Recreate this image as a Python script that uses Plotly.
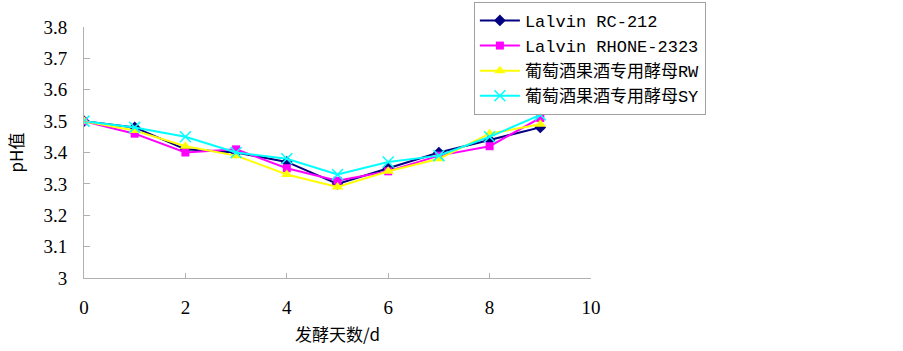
import plotly.graph_objects as go

days = [0, 1, 2, 3, 4, 5, 6, 7, 8, 9]
rc212 = [3.50, 3.48, 3.41, 3.40, 3.37, 3.30, 3.35, 3.40, 3.44, 3.48]
rhone = [3.50, 3.46, 3.40, 3.41, 3.35, 3.31, 3.34, 3.39, 3.42, 3.51]
rw = [3.50, 3.47, 3.42, 3.39, 3.33, 3.29, 3.34, 3.38, 3.46, 3.49]
sy = [3.50, 3.48, 3.45, 3.40, 3.38, 3.33, 3.37, 3.39, 3.45, 3.52]

names = ["Lalvin RC-212", "Lalvin RHONE-2323", "葡萄酒果酒专用酵母RW", "葡萄酒果酒专用酵母SY"]
x_ticks = [0, 2, 4, 6, 8, 10]
y_ticks = [3.0, 3.1, 3.2, 3.3, 3.4, 3.5, 3.6, 3.7, 3.8]
y_tick_text = ["3", "3.1", "3.2", "3.3", "3.4", "3.5", "3.6", "3.7", "3.8"]

fig = go.Figure()
fig.add_trace(go.Scatter(x=days, y=rc212, name=names[0], mode="lines+markers",
                         line=dict(color="#000080", width=2),
                         marker=dict(symbol="diamond", size=9, color="#000080")))
fig.add_trace(go.Scatter(x=days, y=rhone, name=names[1], mode="lines+markers",
                         line=dict(color="#FF00FF", width=2),
                         marker=dict(symbol="square", size=8, color="#FF00FF")))
fig.add_trace(go.Scatter(x=days, y=rw, name=names[2], mode="lines+markers",
                         line=dict(color="#FFFF00", width=2),
                         marker=dict(symbol="triangle-up", size=10, color="#FFFF00")))
fig.add_trace(go.Scatter(x=days, y=sy, name=names[3], mode="lines+markers",
                         line=dict(color="#00FFFF", width=2),
                         marker=dict(symbol="x-thin", size=11, color="#00FFFF",
                                     line=dict(color="#00FFFF", width=1.5))))

axis_font = dict(family="Liberation Serif, Noto Sans CJK SC", size=19, color="#000000")

fig.update_layout(
    width=903, height=351,
    margin=dict(l=84, r=312, t=27, b=73, autoexpand=False),
    paper_bgcolor="white", plot_bgcolor="white",
    showlegend=True,
    legend=dict(x=0.769, y=1.1, xanchor="left", yanchor="top",
                bgcolor="white", bordercolor="#a0a0a0", borderwidth=1,
                font=dict(family="Liberation Mono, Noto Sans CJK SC", size=17, color="#000000"),
                tracegroupgap=0, itemwidth=40),
    xaxis=dict(range=[0, 10], tickvals=x_ticks, ticks="inside", ticklen=5,
               tickcolor="#b0b0b0", showline=True, linecolor="#b0b0b0", linewidth=1,
               showgrid=False, zeroline=False, tickfont=axis_font, ticklabelstandoff=12,
               title=dict(text="发酵天数/d", font=dict(family="Noto Sans CJK SC", size=17, color="#000000"),
                          standoff=12)),
    yaxis=dict(range=[3.0, 3.8], tickvals=y_ticks, ticktext=y_tick_text, ticks="inside", ticklen=6,
               tickcolor="#b0b0b0", showline=True, linecolor="#b0b0b0", linewidth=1,
               showgrid=False, zeroline=False, tickfont=axis_font, ticklabelstandoff=12,
               title=dict(text="pH值", font=dict(family="Noto Sans CJK SC", size=17, color="#000000"),
                          standoff=15)),
)

fig.write_html("out.html", config={"displayModeBar": False},
               post_script="document.body.style.margin='0';")
